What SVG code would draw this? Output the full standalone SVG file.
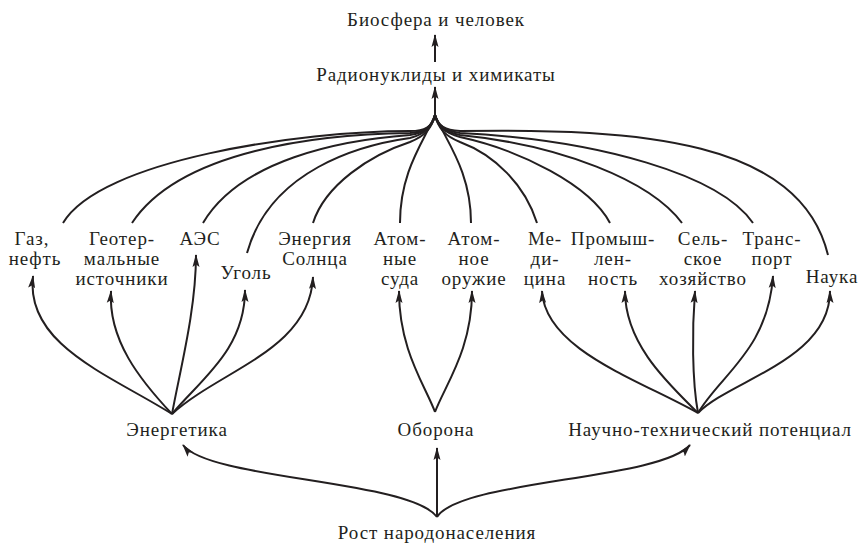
<svg xmlns="http://www.w3.org/2000/svg" width="861" height="544" viewBox="0 0 861 544">
<defs>
<style>
text{font-family:"Liberation Serif","Times New Roman",serif;font-size:19px;letter-spacing:0.9px;fill:#231f20;text-anchor:middle}
.c{fill:none;stroke:#231f20;stroke-width:2}
.a{marker-end:url(#ah)}
</style>
<marker id="ah" markerWidth="14" markerHeight="9" refX="12" refY="4.5" orient="auto" markerUnits="userSpaceOnUse">
<path d="M0,1 L13,4.5 L0,8 L2.5,4.5 z" fill="#231f20"/>
</marker>
</defs>
<rect width="861" height="544" fill="#fff"/>
<g id="connectors">
<path class="c a" d="M435,62 L435,35"/>
<path class="c a" d="M435,116 L435,87"/>
<path class="c" d="M435,115 C432,127 425,131 410,131 C300,131 100,160 63,223"/>
<path class="c" d="M435,115 C432,127 425,132 410,133 C320,134 180,150 132,223"/>
<path class="c" d="M435,115 C432,127 425,133 410,135 C340,140 240,160 203,223"/>
<path class="c" d="M435,115 C432,127 425,134 410,138 C360,145 270,170 247,253"/>
<path class="c" d="M435,115 C432,128 425,136 410,142 C370,155 325,185 313,223"/>
<path class="c" d="M435,115 C425,140 400,170 400,223"/>
<path class="c" d="M435,115 C445,140 471,170 471,223"/>
<path class="c" d="M435,115 C438,128 445,136 460,142 C495,155 525,185 537,223"/>
<path class="c" d="M435,115 C438,127 445,133 460,137 C520,150 590,185 610,223"/>
<path class="c" d="M435,115 C438,127 445,132 460,135 C560,145 650,180 682,223"/>
<path class="c" d="M435,115 C438,126 445,131 460,133 C600,140 720,175 753,223"/>
<path class="c" d="M435,115 C438,126 445,130 460,131 C640,128 800,140 828,255"/>
<path class="c a" d="M172,414 C110,375 25,345 33,276"/>
<path class="c a" d="M172,414 C140,380 108,340 111,291"/>
<path class="c a" d="M172,414 C180,370 196,310 196,255"/>
<path class="c a" d="M172,414 C200,380 245,350 245,290"/>
<path class="c a" d="M172,414 C220,370 310,350 313,277"/>
<path class="c a" d="M435,412 C425,385 399,350 399,291"/>
<path class="c a" d="M435,412 C445,385 472,350 472,291"/>
<path class="c a" d="M698,413 C640,380 545,350 542,291"/>
<path class="c a" d="M698,413 C670,385 625,345 625,291"/>
<path class="c a" d="M698,413 C692,380 692,330 695,291"/>
<path class="c a" d="M698,413 C720,375 768,350 773,276"/>
<path class="c a" d="M698,413 C730,380 830,360 830,291"/>
<path class="c a" d="M437,517 L437,448"/>
<path class="c a" d="M437,517 C410,480 210,480 183,445"/>
<path class="c a" d="M437,517 C460,480 660,480 690,445"/>
</g>
<g id="biosphere"><text x="436" y="26">Биосфера и человек</text></g>
<g id="radionuclides"><text x="436" y="81">Радионуклиды и химикаты</text></g>
<g id="gas"><text y="245"><tspan x="32">Газ,</tspan><tspan x="35" dy="20">нефть</tspan></text></g>
<g id="geothermal"><text y="245"><tspan x="122">Геотер-</tspan><tspan x="122" dy="20">мальные</tspan><tspan x="122" dy="20">источники</tspan></text></g>
<g id="npp"><text x="200" y="245">АЭС</text></g>
<g id="coal"><text x="246" y="279">Уголь</text></g>
<g id="solar"><text y="245"><tspan x="315">Энергия</tspan><tspan x="315" dy="20">Солнца</tspan></text></g>
<g id="nuclear-ships"><text y="245"><tspan x="400">Атом-</tspan><tspan x="400" dy="20">ные</tspan><tspan x="400" dy="20">суда</tspan></text></g>
<g id="nuclear-weapons"><text y="245"><tspan x="474">Атом-</tspan><tspan x="474" dy="20">ное</tspan><tspan x="474" dy="20">оружие</tspan></text></g>
<g id="medicine"><text y="245"><tspan x="545">Ме-</tspan><tspan x="545" dy="20">ди-</tspan><tspan x="545" dy="20">цина</tspan></text></g>
<g id="industry"><text y="245"><tspan x="613">Промыш-</tspan><tspan x="613" dy="20">лен-</tspan><tspan x="613" dy="20">ность</tspan></text></g>
<g id="agriculture"><text y="245"><tspan x="703">Сель-</tspan><tspan x="703" dy="20">ское</tspan><tspan x="703" dy="20">хозяйство</tspan></text></g>
<g id="transport"><text y="245"><tspan x="772">Транс-</tspan><tspan x="772" dy="20">порт</tspan></text></g>
<g id="science"><text x="832" y="283">Наука</text></g>
<g id="energy"><text x="177" y="436">Энергетика</text></g>
<g id="defense"><text x="436" y="436">Оборона</text></g>
<g id="scitech"><text x="710" y="436">Научно-технический потенциал</text></g>
<g id="population"><text x="437" y="539">Рост народонаселения</text></g>
</svg>
